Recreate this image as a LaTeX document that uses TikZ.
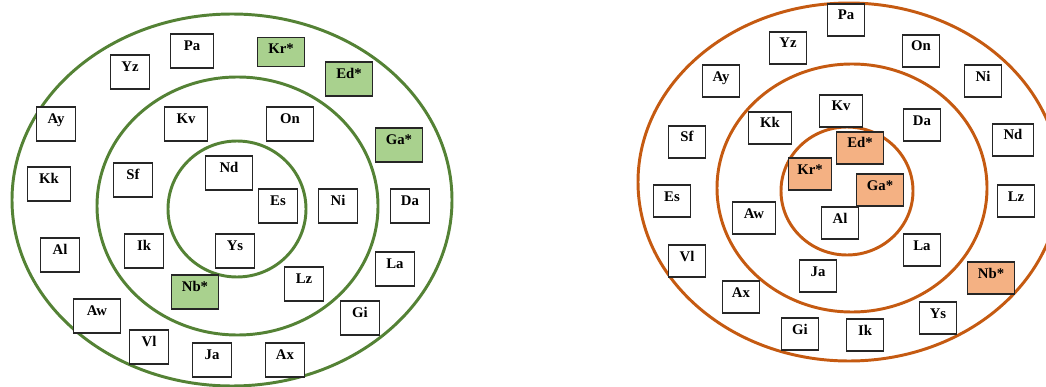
\documentclass[tikz,border=0pt]{standalone}
\usepackage{fontspec}
\setmainfont{Liberation Serif}
\usepackage{xcolor}
\usepackage{tikz}
\usetikzlibrary{positioning}

\definecolor{ringgreen}{HTML}{548235}
\definecolor{fillgreen}{HTML}{A9D18E}
\definecolor{ringorange}{HTML}{C55A11}
\definecolor{fillorange}{HTML}{F4B183}

\begin{document}
\begin{tikzpicture}[x=0.025cm, y=-0.025cm,
        tag/.style={draw=black!85, fill=white, line width=0.9pt, font=\fontsize{10.5}{12}\selectfont\bfseries,
            text height=9.3pt, text depth=10.7pt, inner ysep=2.1pt, inner xsep=0pt, minimum width=0.975cm},
        rtag/.style={tag, text depth=9.3pt, minimum width=0.925cm},
        mid/.style={minimum width=1.075cm},
        wide/.style={minimum width=1.175cm},
        greenbox/.style={fill=fillgreen},
        orangebox/.style={fill=fillorange},
        greenring/.style={draw=ringgreen, line width=2.1pt},
        orangering/.style={draw=ringorange, line width=2.1pt}]
                \useasboundingbox (0,0) rectangle (1046,387);
                \clip (0,0) rectangle (1046,387);

                \draw[greenring] (232,200) ellipse [x radius=220, y radius=186];
                \draw[greenring] (237.5,206) ellipse [x radius=140.5, y radius=129];
                \draw[greenring] (237,209) ellipse [x radius=69, y radius=68];

                \node[tag, mid] (lPa) at (192, 51) {Pa};
                \node[tag, wide, greenbox, text depth=7.5pt] (lKr) at (281, 52) {Kr*};
                \node[tag] (lYz) at (130, 72) {Yz};
                \node[tag, wide, greenbox] (lEd) at (349, 79) {Ed*};
                \node[tag] (lAy) at (56, 124) {Ay};
                \node[tag, mid] (lKv) at (186, 124) {Kv};
                \node[tag, wide] (lOn) at (290, 124) {On};
                \node[tag, wide, greenbox] (lGa) at (399, 145) {Ga*};
                \node[tag, wide] (lNd) at (229, 173) {Nd};
                \node[tag] (lSf) at (133, 180) {Sf};
                \node[tag, mid] (lKk) at (49, 184) {Kk};
                \node[tag] (lEs) at (278, 206) {Es};
                \node[tag] (lNi) at (338, 206) {Ni};
                \node[tag] (lDa) at (410, 206) {Da};
                \node[tag] (lAl) at (60, 255) {Al};
                \node[tag] (lIk) at (144, 251) {Ik};
                \node[tag] (lYs) at (235, 251) {Ys};
                \node[tag] (lLa) at (395, 269) {La};
                \node[tag, wide, greenbox] (lNb) at (195, 292) {Nb*};
                \node[tag] (lLz) at (304, 284) {Lz};
                \node[tag, wide] (lAw) at (97, 316) {Aw};
                \node[tag] (lGi) at (360, 318) {Gi};
                \node[tag] (lVl) at (149, 347) {Vl};
                \node[tag] (lJa) at (212, 360) {Ja};
                \node[tag] (lAx) at (285, 360) {Ax};

                \draw[orangering] (849,182) ellipse [x radius=211, y radius=179];
                \draw[orangering] (852,188) ellipse [x radius=135, y radius=124];
                \draw[orangering] (847,191) ellipse [x radius=66, y radius=64];

                \node[rtag] (rPa) at (846, 20) {Pa};
                \node[rtag] (rYz) at (788, 48) {Yz};
                \node[rtag] (rOn) at (921, 51) {On};
                \node[rtag] (rAy) at (721, 81) {Ay};
                \node[rtag] (rNi) at (983, 81) {Ni};
                \node[rtag, mid] (rKv) at (841, 111) {Kv};
                \node[rtag, mid] (rKk) at (770, 128) {Kk};
                \node[rtag] (rDa) at (922, 125) {Da};
                \node[rtag] (rSf) at (687, 142) {Sf};
                \node[rtag, minimum width=1.025cm] (rNd) at (1013, 140) {Nd};
                \node[rtag, wide, orangebox] (rEd) at (860, 148) {Ed*};
                \node[rtag, mid, orangebox] (rKr) at (810, 174) {Kr*};
                \node[rtag, wide, orangebox] (rGa) at (880, 190) {Ga*};
                \node[rtag] (rEs) at (672, 201) {Es};
                \node[rtag] (rLz) at (1016, 201) {Lz};
                \node[rtag, mid] (rAw) at (754, 218) {Aw};
                \node[rtag] (rAl) at (840, 223) {Al};
                \node[rtag] (rVl) at (687, 261) {Vl};
                \node[rtag] (rLa) at (922, 250) {La};
                \node[rtag] (rJa) at (818, 276) {Ja};
                \node[rtag, wide, orangebox] (rNb) at (991, 278) {Nb*};
                \node[rtag] (rAx) at (741, 297) {Ax};
                \node[rtag] (rYs) at (938, 318) {Ys};
                \node[rtag] (rGi) at (800, 334) {Gi};
                \node[rtag] (rIk) at (865, 335) {Ik};
\end{tikzpicture}
\end{document}
